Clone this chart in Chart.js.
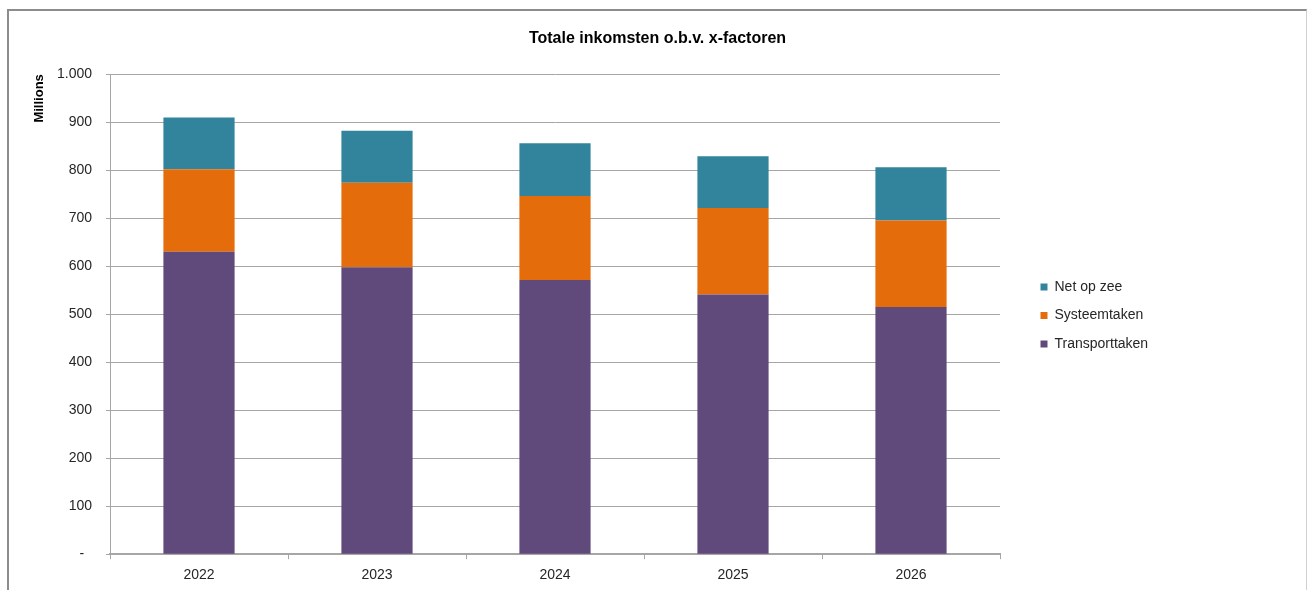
<!DOCTYPE html>
<html>
<head>
<meta charset="utf-8">
<script src="https://cdn.jsdelivr.net/npm/chart.js@4"></script>
<style>
    html, body { margin: 0; padding: 0; background: #fff; }
    #frame {
        position: absolute;
        left: 7px;
        top: 9px;
        width: 1297px;
        height: 581px;
        border-left: 2px solid #8c8c8c;
        border-top: 2px solid #8c8c8c;
        border-right: 1px solid #d0d0d0;
        overflow: hidden;
    }
    #chart { display: block; }
</style>
</head>
<body>
<div id="frame"><canvas id="chart" width="1297" height="581"></canvas></div>
<script>
// Totale inkomsten per jaar, in miljoenen
const years = ['2022', '2023', '2024', '2025', '2026'];
const transporttaken = [630, 598, 571, 541, 515];
const systeemtaken = [172, 176, 175, 180, 180];
const netOpZee = [108, 108, 110, 108, 111];
const yTicks = [0, 100, 200, 300, 400, 500, 600, 700, 800, 900, 1000];

const FONT = 'Arial, "Liberation Sans", sans-serif';
const GRID = '#a6a6a6';

// Dutch number style: 1.000, and a dash for zero
function formatTick(value) {
    if (value === 0) return '-  ';
    return String(value).replace(/\B(?=(\d{3})+(?!\d))/g, '.');
}

// keep the legend off to the right, with room between plot and legend
const LEGEND_WIDTH = 306;
const LEGEND_INSET = 26;
const LEGEND_DROP = 14;
const legendSpacer = {
    id: 'legendSpacer',
    beforeLayout(chart) {
        const lg = chart.legend;
        if (!lg || lg._spaced) return;
        const fit = lg.fit;
        lg.fit = function () {
            fit.call(this);
            this.width = LEGEND_WIDTH;
        };
        lg._spaced = true;
    },
    afterLayout(chart) {
        const lg = chart.legend;
        lg.left += LEGEND_INSET;
        lg.right += LEGEND_INSET;
        lg.top += LEGEND_DROP;
        lg.bottom += LEGEND_DROP;
    }
};

const ctx = document.getElementById('chart');
new Chart(ctx, {
    type: 'bar',
    data: {
        labels: years,
        datasets: [
            { label: 'Transporttaken', data: transporttaken, backgroundColor: '#604A7B' },
            { label: 'Systeemtaken', data: systeemtaken, backgroundColor: '#E46C0A' },
            { label: 'Net op zee', data: netOpZee, backgroundColor: '#31849B' }
        ]
    },
    options: {
        responsive: false,
        animation: false,
        layout: { padding: { top: 0, bottom: 0, left: 0, right: 0 } },
        datasets: {
            bar: { categoryPercentage: 1, barPercentage: 0.4, borderWidth: 0 }
        },
        plugins: {
            title: {
                display: true,
                text: 'Totale inkomsten o.b.v. x-factoren',
                color: '#000',
                font: { family: FONT, size: 16, weight: 'bold' },
                padding: { top: 18, bottom: 26 }
            },
            legend: {
                position: 'right',
                reverse: true,
                labels: {
                    boxWidth: 7,
                    boxHeight: 7,
                    padding: 14.5,
                    color: '#262626',
                    font: { family: FONT, size: 14 }
                }
            },
            tooltip: { enabled: false }
        },
        scales: {
            x: {
                stacked: true,
                grid: {
                    offset: true,
                    drawOnChartArea: false,
                    drawTicks: true,
                    tickLength: 5,
                    color: GRID
                },
                border: { color: GRID, width: 2 },
                ticks: {
                    color: '#262626',
                    padding: 8,
                    font: { family: FONT, size: 14 }
                }
            },
            y: {
                stacked: true,
                min: 0,
                max: 1000,
                afterFit(scale) { scale.width = 101; },
                afterBuildTicks(scale) { scale.ticks = yTicks.map(v => ({ value: v })); },
                grid: { color: GRID, tickLength: 4 },
                border: { color: GRID, width: 1 },
                ticks: {
                    color: '#262626',
                    padding: 14,
                    font: { family: FONT, size: 14 },
                    callback: formatTick
                },
                title: {
                    display: true,
                    text: 'Millions',
                    align: 'end',
                    color: '#000',
                    font: { family: FONT, size: 13, weight: 'bold' },
                    padding: { top: 23, bottom: 0 }
                }
            }
        }
    },
    plugins: [legendSpacer]
});
</script>
</body>
</html>
